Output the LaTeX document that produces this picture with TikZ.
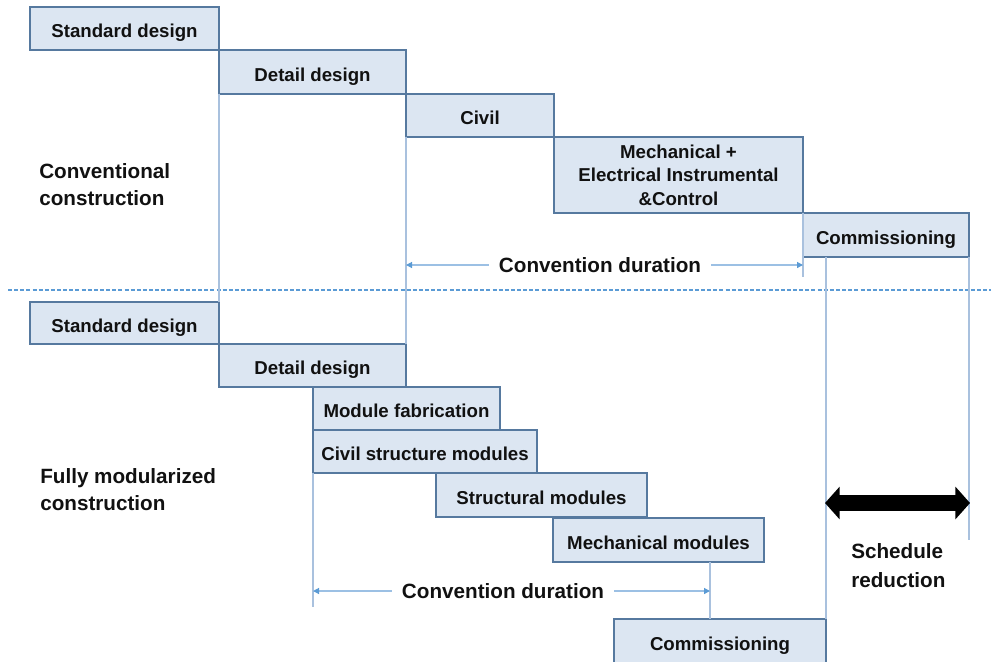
\documentclass[tikz,border=0pt]{standalone}
\usepackage{fontspec}
\setmainfont{Liberation Sans}
\usetikzlibrary{arrows.meta}

\definecolor{boxfill}{HTML}{DCE6F2}
\definecolor{boxline}{HTML}{56799F}
\definecolor{guidecol}{HTML}{A9C1DE}
\definecolor{dimline}{HTML}{9CC0E4}
\definecolor{dimtip}{HTML}{5B9BD5}
\definecolor{sepcol}{HTML}{5B9BD5}
\definecolor{ink}{HTML}{111111}

\tikzset{
  taskbox/.style={draw=boxline, fill=boxfill, line width=1.1pt, inner sep=0pt,
    outer sep=0pt, font=\bfseries\fontsize{14}{17.5}\selectfont, text=ink, align=center},
  oneline/.style={text height=14.2pt, text depth=0pt},
  guide/.style={draw=guidecol, line width=0.8pt},
  dimarrow/.style={draw=dimline, line width=0.9pt,
    -{Triangle[length=4.5pt,width=4.5pt,color=dimtip]}},
  bigtext/.style={font=\bfseries\fontsize{15.5}{20}\selectfont, text=ink,
    inner xsep=7.5pt, inner ysep=0pt},
  sidetext/.style={font=\bfseries\fontsize{15.5}{20}\selectfont, text=ink,
    inner sep=0pt, anchor=base west},
  sepline/.style={draw=sepcol, line width=1.1pt, dash pattern=on 3pt off 1.6pt},
  reduction/.style={draw=black, line width=12pt,
    {Triangle[width=24pt,length=11pt]}-{Triangle[width=24pt,length=11pt]}},
}

% box from (x1,y1) to (x2,y2), pixel units
\newcommand\taskbox[7][oneline]{%
  \node[taskbox, #1, minimum width={(#5-#3)*0.75pt}, minimum height={(#6-#4)*0.75pt}]
    (#2) at ({(#3+#5)/2},{(#4+#6)/2}) {#7};}

\begin{document}
\begin{tikzpicture}[x=0.75pt, y=-0.75pt]
\useasboundingbox (0,0) rectangle (991,661);

% conventional schedule
\taskbox{sdA}{30}{7}{219}{50}{Standard design}
\taskbox{ddA}{219}{50}{406}{94}{Detail design}
\taskbox{civA}{406}{94}{554}{137}{Civil}
\taskbox[]{mecA}{554}{137}{803}{213}{Mechanical +\\Electrical Instrumental\\\&Control}
\taskbox{comA}{803}{213}{969}{257}{Commissioning}

\node[sidetext] (convA) at (39,178) {Conventional};
\node[sidetext] (convB) at (39,205) {construction};

% separator
\coordinate (sepL) at (8,290);
\coordinate (sepR) at (991,290);
\draw[sepline] (sepL) -- (sepR);

% modularized schedule
\taskbox{sdB}{30}{302}{219}{344}{Standard design}
\taskbox{ddB}{219}{344}{406}{387}{Detail design}
\taskbox{mfB}{313}{387}{500}{430}{Module fabrication}
\taskbox{csB}{313}{430}{537}{473}{Civil structure modules}
\taskbox{smB}{436}{473}{647}{517}{Structural modules}
\taskbox{mmB}{553}{518}{764}{562}{Mechanical modules}
\taskbox{comB}{614}{619}{826}{663}{Commissioning}

\node[sidetext] (modA) at (40,483) {Fully modularized};
\node[sidetext] (modB) at (40,510) {construction};

% guide lines
\coordinate (tickA) at (803,277);
\coordinate (redTop) at (826,257);
\coordinate (redEnd) at (969,540);
\coordinate (tickB) at (313,607);
\coordinate (mmFoot) at (710,562);
\coordinate (mmTick) at (710,619);
\draw[guide] (ddA.south west) -- (sdB.north east);
\draw[guide] (civA.south west) -- (ddB.north east);
\draw[guide] (mecA.south east) -- (tickA);
\draw[guide] (redTop) -- (comB.north east);
\draw[guide] (comA.south east) -- (redEnd);
\draw[guide] (csB.south west) -- (tickB);
\draw[guide] (mmFoot) -- (mmTick);

% durations
\node[bigtext] (durA) at (600,265) {Convention duration};
\draw[dimarrow] (durA.west) -- (civA.south west |- durA.west);
\draw[dimarrow] (durA.east) -- (tickA |- durA.east);

\node[bigtext] (durB) at (503,591) {Convention duration};
\draw[dimarrow] (durB.west) -- (tickB |- durB.west);
\draw[dimarrow] (durB.east) -- (mmFoot |- durB.east);

% schedule reduction
\coordinate (srL) at (825,503);
\coordinate (srR) at (970,503);
\draw[reduction] (srL) -- (srR);
\node[sidetext] (srA) at (851,558) {Schedule};
\node[sidetext] (srB) at (851,587) {reduction};

\end{tikzpicture}
\end{document}
